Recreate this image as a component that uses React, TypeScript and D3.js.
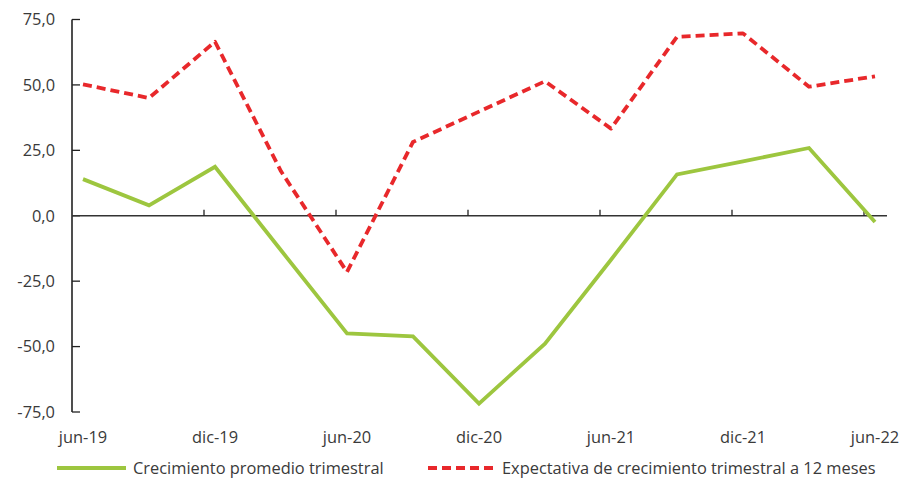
import React from "react";
import * as d3 from "d3";

const categories = ["jun-19","sep-19","dic-19","mar-20","jun-20","sep-20","dic-20","mar-21","jun-21","sep-21","dic-21","mar-22","jun-22"];
const tickLabels = ["jun-19","dic-19","jun-20","dic-20","jun-21","dic-21","jun-22"];
const crecimiento = [14.0, 4.0, 18.7, -13.2, -45.0, -46.1, -71.8, -48.9, -16.8, 15.8, 20.8, 25.9, -2.4];
const expectativa = [50.2, 45.0, 66.5, 17.0, -21.5, 28.2, 39.8, 51.4, 33.3, 68.4, 69.7, 49.3, 53.3];
const yTicks = [75, 50, 25, 0, -25, -50, -75];
const seriesNames = ["Crecimiento promedio trimestral", "Expectativa de crecimiento trimestral a 12 meses"];

const GREEN = "#9DC63F";
const RED = "#E8282B";
const TEXT = "#3a3a3a";
const FONT = "'Open Sans', sans-serif";
const FS = 16.4;

export default function App() {
  const W = 902, H = 481;
  const x = d3.scalePoint<string>().domain(categories).range([83, 875]);
  const y = d3.scaleLinear().domain([-75, 75]).range([412, 19.5]);
  const step = x.step();
  const axisLeft = x(categories[0])! - step / 6;
  const axisRight = x(categories[categories.length - 1])! + 12;
  const fmt = (v: number) => v.toFixed(1).replace(".", ",");

  const line = d3.line<number>()
    .x((_, i) => x(categories[i])!)
    .y((d) => y(d));

  return (
    <svg width={W} height={H} style={{ position: "absolute", left: 0, top: 0, background: "#fff" }}
      fontFamily={FONT}>
      <rect width={W} height={H} fill="#fff" />
      {/* y axis */}
      <line x1={axisLeft} x2={axisLeft} y1={y(75)} y2={y(-75)} stroke="#222" strokeWidth={1.6} />
      {yTicks.map((t) => (
        <g key={t}>
          <line x1={axisLeft} x2={axisLeft + 8} y1={y(t)} y2={y(t)} stroke="#222" strokeWidth={1.3} />
          <text x={55} y={y(t)} dy="0.36em" textAnchor="end" fontSize={FS} fill={TEXT}>{fmt(t)}</text>
        </g>
      ))}
      {/* zero line */}
      <line x1={axisLeft} x2={axisRight} y1={y(0)} y2={y(0)} stroke="#333" strokeWidth={1.3} />
      {categories.map((c, i) => i % 2 === 0 && i > 0 ? (
        <line key={c} x1={x(c)! - step / 6} x2={x(c)! - step / 6} y1={y(0)} y2={y(0) - 6} stroke="#222" strokeWidth={1.3} />
      ) : null)}
      {tickLabels.map((c) => (
        <text key={c} x={x(c)!} y={437} dy="0.36em" textAnchor="middle" fontSize={FS} fill={TEXT}>{c}</text>
      ))}
      {/* series */}
      <path d={line(crecimiento)!} fill="none" stroke={GREEN} strokeWidth={3.8} strokeLinejoin="miter" />
      <path d={line(expectativa)!} fill="none" stroke={RED} strokeWidth={3.8} strokeDasharray="9,5" strokeLinejoin="round" />
      {/* legend */}
      <line x1={57} x2={126} y1={468} y2={468} stroke={GREEN} strokeWidth={3.8} />
      <text x={133} y={468} dy="0.36em" fontSize={FS} fill={TEXT}>{seriesNames[0]}</text>
      <line x1={428} x2={497} y1={468} y2={468} stroke={RED} strokeWidth={3.8} strokeDasharray="9,5" />
      <text x={502} y={468} dy="0.36em" fontSize={FS} fill={TEXT}>{seriesNames[1]}</text>
    </svg>
  );
}
